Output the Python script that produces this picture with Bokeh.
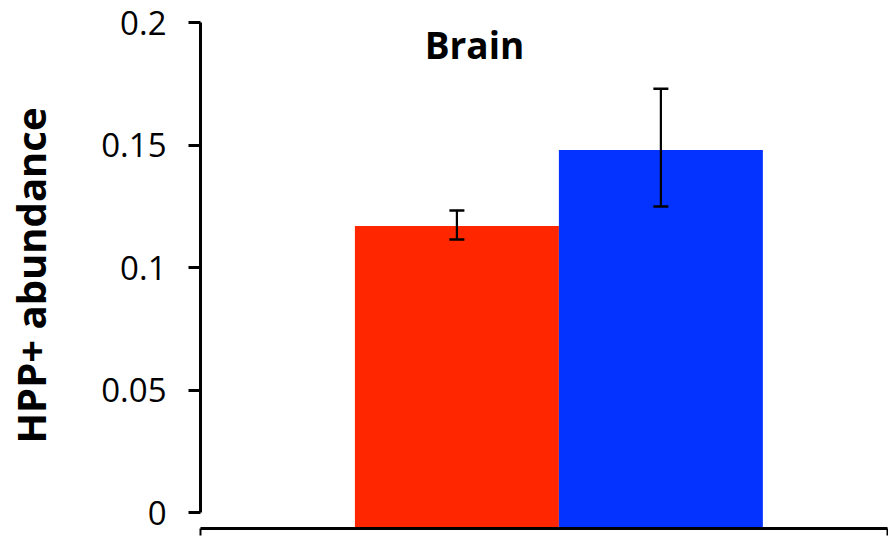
from bokeh.plotting import figure
from bokeh.models import ColumnDataSource, Whisker, TeeHead, Label, FixedTicker, Range1d
from bokeh.embed import file_html
from bokeh.resources import INLINE

# data
groups = ["Group 1", "Group 2"]
positions = [1, 2]
means = [0.117, 0.148]
lower = [0.1114, 0.1249]
upper = [0.1233, 0.173]
colors = ["#FF2600", "#0433FF"]
y_ticks = [0, 0.05, 0.1, 0.15, 0.2]
y_tick_labels = {0: "0", 0.05: "0.05", 0.1: "0.1", 0.15: "0.15", 0.2: "0.2"}

Y_MIN = -0.0065
Y_MAX = 0.2
X_MIN = -0.257
X_MAX = 3.111

p = figure(width=888, height=538, output_backend="svg", toolbar_location=None,
           x_range=Range1d(X_MIN, X_MAX), y_range=Range1d(Y_MIN, Y_MAX),
           min_border_left=200, min_border_top=22, min_border_bottom=10,
           min_border_right=1)
p.outline_line_color = None
p.grid.visible = False
p.background_fill_color = "white"

src = ColumnDataSource(dict(x=positions, top=means, lower=lower, upper=upper,
                            color=colors, group=groups))
p.vbar(x="x", top="top", bottom=Y_MIN, width=1.0, fill_color="color",
       line_color=None, source=src)

w = Whisker(base="x", lower="lower", upper="upper", source=src,
            line_color="black", line_width=2.2, level="annotation",
            upper_head=TeeHead(size=15, line_width=2.5, line_color="black"),
            lower_head=TeeHead(size=15, line_width=2.5, line_color="black"))
p.add_layout(w)

# y axis
ya = p.yaxis[0]
ya.ticker = FixedTicker(ticks=y_ticks)
ya.major_label_overrides = y_tick_labels
ya.bounds = (0, 0.2)
ya.axis_line_width = 3
ya.major_tick_line_width = 3
ya.major_tick_out = 12
ya.major_tick_in = 0
ya.minor_tick_line_color = None
ya.major_label_text_font = "Open Sans"
ya.major_label_text_font_size = "33px"
ya.major_label_text_color = "black"
ya.major_label_standoff = 22
ya.axis_label = "HPP+ abundance"
ya.axis_label_text_font = "Open Sans"
ya.axis_label_text_font_style = "bold"
ya.axis_label_text_font_size = "40px"
ya.axis_label_text_color = "black"
ya.axis_label_standoff = 40

# x axis
xa = p.xaxis[0]
xa.ticker = FixedTicker(ticks=[X_MIN, X_MAX])
xa.axis_line_width = 3
xa.major_tick_line_width = 2
xa.major_tick_out = 7
xa.major_tick_in = 0
xa.minor_tick_line_color = None
xa.major_label_text_font_size = "0px"
xa.major_label_standoff = 0

title = Label(x=274, y=484, x_units="screen", y_units="screen", text="Brain",
              text_font="Open Sans", text_font_style="bold", text_font_size="37px",
              text_align="center", text_baseline="middle", text_color="black")
p.add_layout(title)

open("out.html", "w").write(file_html(p, INLINE))
